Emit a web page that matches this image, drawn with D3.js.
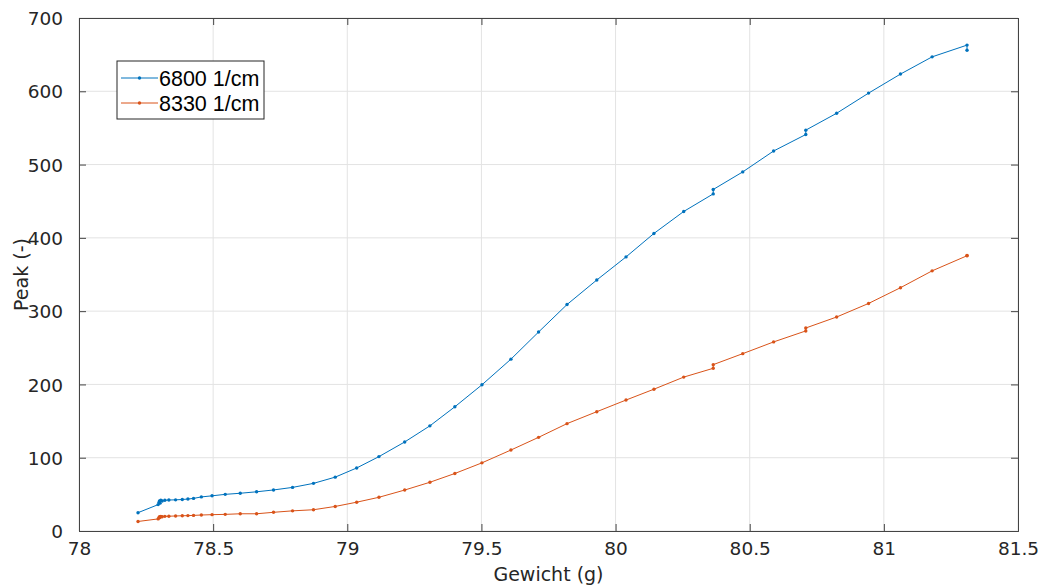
<!DOCTYPE html>
<html>
<head>
<meta charset="utf-8">
<script src="https://cdn.jsdelivr.net/npm/d3@7"></script>
<style>
  body { margin: 0; background: #fff; }
  svg text { font-family: "DejaVu Sans", sans-serif; fill: #262626; }
  svg text.leg { font-family: "Liberation Sans", Arial, sans-serif; fill: #000; }
</style>
</head>
<body>
<div id="chart"></div>
<script>
// weight (g), shared by both series; repeated values are steps at the same weight
var gewicht = [78.22, 78.295, 78.298, 78.300, 78.302, 78.305, 78.31, 78.32, 78.335, 78.36,
  78.385, 78.406, 78.427, 78.456, 78.496, 78.545, 78.601, 78.662, 78.725, 78.796,
  78.874, 78.955, 79.035, 79.118, 79.214, 79.308, 79.401, 79.502, 79.61, 79.713,
  79.819, 79.93, 80.039, 80.143, 80.254, 80.364, 80.364, 80.474, 80.589, 80.709,
  80.709, 80.824, 80.943, 81.062, 81.18, 81.31, 81.31];

var peak6800 = [25, 36, 39, 41, 38, 42, 41, 42, 42.3, 42.5,
  43, 43.6, 44.5, 46.5, 48, 50, 51.5, 53.5, 56, 59.5,
  65, 73.5, 86, 101.5, 121.5, 143.5, 169.5, 199.5, 234.5, 271.5,
  309, 342.5, 374, 406, 436, 460, 466, 490, 518.5, 541,
  547, 570, 597.5, 623.5, 647, 663, 656];

var peak8330 = [13, 16.5, 18, 19.5, 18.5, 20, 19.5, 20, 20.2, 20.5,
  20.8, 21, 21.3, 21.8, 22.3, 22.7, 23.5, 23.5, 25.5, 27.5,
  29, 33.5, 39.3, 46, 55.9, 66.5, 78.5, 93, 110.5, 127.8,
  146.5, 162.8, 178.7, 193.5, 210, 222, 227, 242, 258, 273,
  277, 292, 310.5, 332, 355, 375.6, 376];

var seriesNames = ['6800 1/cm', '8330 1/cm'];
var seriesColors = ['#0072BD', '#D95319'];
var xTicks = [78, 78.5, 79, 79.5, 80, 80.5, 81, 81.5];
var yTicks = [0, 100, 200, 300, 400, 500, 600, 700];

const chart_width = 1040;
const chart_height = 586;
const m_left = 79, m_right = 1018, m_top = 18, m_bottom = 531;

var svg = d3.select('#chart')
  .append('svg')
  .attr('width', chart_width)
  .attr('height', chart_height);

var x = d3.scaleLinear().domain([78, 81.5]).range([m_left, m_right]);
var y = d3.scaleLinear().domain([0, 700]).range([m_bottom, m_top]);

// grid
svg.append('g')
  .selectAll('line')
  .data(xTicks)
  .enter()
  .append('line')
  .attr('x1', d => x(d)).attr('x2', d => x(d))
  .attr('y1', m_top).attr('y2', m_bottom)
  .attr('stroke', '#e3e3e3');

svg.append('g')
  .selectAll('line')
  .data(yTicks)
  .enter()
  .append('line')
  .attr('x1', m_left).attr('x2', m_right)
  .attr('y1', d => y(d)).attr('y2', d => y(d))
  .attr('stroke', '#e3e3e3');

// axes, ticks point inward like matlab
var xAxis = svg.append('g')
  .attr('transform', 'translate(0,' + m_bottom + ')')
  .call(d3.axisBottom(x).tickValues(xTicks).tickSize(-7).tickPadding(14).tickFormat(d3.format('')));
var xTop = svg.append('g')
  .attr('transform', 'translate(0,' + m_top + ')')
  .call(d3.axisTop(x).tickValues(xTicks).tickSize(-7).tickFormat(''));
var yAxis = svg.append('g')
  .attr('transform', 'translate(' + m_left + ',0)')
  .call(d3.axisLeft(y).tickValues(yTicks).tickSize(-7).tickPadding(16));
var yRight = svg.append('g')
  .attr('transform', 'translate(' + m_right + ',0)')
  .call(d3.axisRight(y).tickValues(yTicks).tickSize(-7).tickFormat(''));

svg.selectAll('.domain').attr('stroke', '#444').attr('stroke-width', 1);
svg.selectAll('.tick line').attr('stroke', '#444');
svg.selectAll('.tick text')
  .attr('font-size', 18.5)
  .attr('fill', '#262626');
xAxis.selectAll('.tick text').attr('dy', '0.55em');
yAxis.selectAll('.tick text').attr('dy', '0.36em');

// labels
svg.append('text')
  .text('Gewicht (g)')
  .attr('x', (m_left + m_right) / 2)
  .attr('y', 581)
  .attr('text-anchor', 'middle')
  .attr('font-size', 19);

svg.append('text')
  .text('Peak (-)')
  .attr('transform', 'translate(28,' + ((m_top + m_bottom) / 2) + ') rotate(-90)')
  .attr('text-anchor', 'middle')
  .attr('font-size', 19);

// lines and dot markers
var allSeries = [peak6800, peak8330];
var line = d3.line()
  .x((d, i) => x(gewicht[i]))
  .y(d => y(d));

allSeries.forEach(function(vals, s) {
  svg.append('path')
    .datum(vals)
    .attr('d', line)
    .attr('fill', 'none')
    .attr('stroke', seriesColors[s])
    .attr('stroke-width', 1);

  svg.append('g')
    .selectAll('circle')
    .data(vals)
    .enter()
    .append('circle')
    .attr('cx', (d, i) => x(gewicht[i]))
    .attr('cy', d => y(d))
    .attr('r', 1.7)
    .attr('fill', seriesColors[s]);
});

// legend
var legend = svg.append('g').attr('transform', 'translate(117,61)');
legend.append('rect')
  .attr('width', 147)
  .attr('height', 58)
  .attr('fill', '#fff')
  .attr('stroke', '#262626')
  .attr('stroke-width', 1);

var rows = legend.selectAll('g.row')
  .data(seriesNames)
  .enter()
  .append('g')
  .attr('transform', (d, i) => 'translate(0,' + (17 + i * 25) + ')');

rows.append('line')
  .attr('x1', 4).attr('x2', 41)
  .attr('y1', 0).attr('y2', 0)
  .attr('stroke', (d, i) => seriesColors[i])
  .attr('stroke-width', 1);
rows.append('circle')
  .attr('cx', 22.5).attr('cy', 0).attr('r', 1.7)
  .attr('fill', (d, i) => seriesColors[i]);
rows.append('text')
  .attr('class', 'leg')
  .text(d => d)
  .attr('x', 42)
  .attr('dy', '0.36em')
  .attr('font-size', 21.5);
</script>
</body>
</html>
